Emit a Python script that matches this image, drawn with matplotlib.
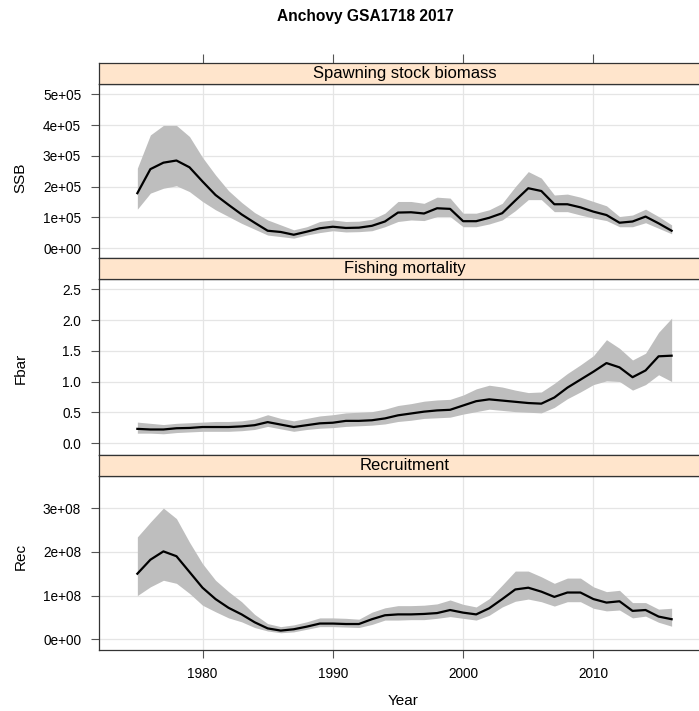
import matplotlib
matplotlib.use("Agg")
import matplotlib.pyplot as plt
import matplotlib.transforms as mtransforms

plt.rcParams['font.family'] = ['Liberation Sans', 'DejaVu Sans']

title = "Anchovy GSA1718 2017"
xlabel = "Year"
years = [1975, 1976, 1977, 1978, 1979, 1980, 1981, 1982, 1983, 1984,
         1985, 1986, 1987, 1988, 1989, 1990, 1991, 1992, 1993, 1994,
         1995, 1996, 1997, 1998, 1999, 2000, 2001, 2002, 2003, 2004,
         2005, 2006, 2007, 2008, 2009, 2010, 2011, 2012, 2013, 2014,
         2015, 2016]

# SSB (tonnes)
ssb = [179e3, 257e3, 278e3, 285e3, 263e3, 217e3, 173e3, 141e3, 110e3, 83e3,
       57e3, 53e3, 44e3, 54e3, 65e3, 70e3, 66e3, 67e3, 73e3, 87e3,
       116e3, 117e3, 113e3, 130e3, 128e3, 88e3, 88e3, 99e3, 114e3, 155e3,
       195e3, 186e3, 143e3, 143e3, 133e3, 119e3, 108e3, 83e3, 87e3, 103e3,
       81e3, 57e3]
ssb_hi = [260e3, 368e3, 399e3, 399e3, 363e3, 295e3, 238e3, 187e3, 149e3, 116e3,
          92e3, 76e3, 60e3, 70e3, 87e3, 92e3, 87e3, 88e3, 94e3, 114e3,
          152e3, 152e3, 146e3, 166e3, 163e3, 114e3, 114e3, 125e3, 146e3, 200e3,
          249e3, 228e3, 173e3, 176e3, 166e3, 152e3, 138e3, 103e3, 108e3, 127e3,
          103e3, 76e3]
ssb_lo = [127e3, 179e3, 195e3, 203e3, 184e3, 152e3, 125e3, 103e3, 81e3, 62e3,
          43e3, 38e3, 33e3, 43e3, 51e3, 57e3, 53e3, 54e3, 57e3, 70e3,
          87e3, 92e3, 90e3, 103e3, 103e3, 70e3, 70e3, 79e3, 92e3, 122e3,
          158e3, 158e3, 119e3, 119e3, 108e3, 98e3, 90e3, 70e3, 70e3, 83e3,
          65e3, 47e3]

# Fbar
fbar = [0.23, 0.22, 0.22, 0.24, 0.245, 0.26, 0.26, 0.26, 0.27, 0.29,
        0.34, 0.30, 0.26, 0.29, 0.32, 0.33, 0.36, 0.36, 0.37, 0.40,
        0.45, 0.48, 0.51, 0.53, 0.54, 0.61, 0.68, 0.71, 0.69, 0.67,
        0.65, 0.64, 0.74, 0.90, 1.03, 1.16, 1.30, 1.23, 1.07, 1.18,
        1.41, 1.42]
fbar_hi = [0.34, 0.32, 0.30, 0.32, 0.33, 0.34, 0.35, 0.35, 0.36, 0.39,
           0.46, 0.40, 0.36, 0.40, 0.44, 0.46, 0.49, 0.50, 0.51, 0.55,
           0.61, 0.64, 0.68, 0.70, 0.71, 0.78, 0.88, 0.94, 0.91, 0.86,
           0.82, 0.83, 0.97, 1.13, 1.27, 1.42, 1.68, 1.54, 1.35, 1.46,
           1.80, 2.03]
fbar_lo = [0.16, 0.16, 0.15, 0.17, 0.18, 0.19, 0.19, 0.19, 0.20, 0.22,
           0.27, 0.23, 0.19, 0.22, 0.24, 0.25, 0.27, 0.28, 0.29, 0.31,
           0.35, 0.37, 0.40, 0.41, 0.42, 0.47, 0.51, 0.55, 0.53, 0.51,
           0.50, 0.49, 0.58, 0.72, 0.83, 0.95, 1.01, 1.00, 0.86, 0.95,
           1.11, 1.00]

# Recruitment
rec = [1.50e8, 1.82e8, 2.01e8, 1.90e8, 1.54e8, 1.18e8, 0.92e8, 0.72e8, 0.57e8, 0.39e8,
       0.25e8, 0.20e8, 0.23e8, 0.29e8, 0.36e8, 0.36e8, 0.35e8, 0.35e8, 0.46e8, 0.55e8,
       0.57e8, 0.57e8, 0.58e8, 0.60e8, 0.67e8, 0.61e8, 0.57e8, 0.71e8, 0.92e8, 1.14e8,
       1.18e8, 1.09e8, 0.97e8, 1.07e8, 1.07e8, 0.92e8, 0.84e8, 0.87e8, 0.65e8, 0.67e8,
       0.52e8, 0.46e8]
rec_hi = [2.34e8, 2.68e8, 3.00e8, 2.76e8, 2.22e8, 1.73e8, 1.35e8, 1.09e8, 0.86e8, 0.57e8,
          0.36e8, 0.29e8, 0.33e8, 0.40e8, 0.49e8, 0.49e8, 0.48e8, 0.46e8, 0.62e8, 0.72e8,
          0.77e8, 0.77e8, 0.78e8, 0.81e8, 0.90e8, 0.80e8, 0.74e8, 0.93e8, 1.24e8, 1.56e8,
          1.56e8, 1.43e8, 1.28e8, 1.40e8, 1.40e8, 1.20e8, 1.09e8, 1.12e8, 0.84e8, 0.84e8,
          0.69e8, 0.71e8]
rec_lo = [1.00e8, 1.20e8, 1.35e8, 1.28e8, 1.05e8, 0.78e8, 0.63e8, 0.49e8, 0.40e8, 0.27e8,
          0.19e8, 0.15e8, 0.17e8, 0.23e8, 0.29e8, 0.29e8, 0.28e8, 0.27e8, 0.34e8, 0.44e8,
          0.44e8, 0.45e8, 0.45e8, 0.48e8, 0.52e8, 0.48e8, 0.44e8, 0.55e8, 0.74e8, 0.87e8,
          0.92e8, 0.86e8, 0.76e8, 0.86e8, 0.86e8, 0.71e8, 0.65e8, 0.67e8, 0.49e8, 0.53e8,
          0.39e8, 0.30e8]

strip_titles = ["Spawning stock biomass", "Fishing mortality", "Recruitment"]
ylabels = ["SSB", "Fbar", "Rec"]
xticks = [1980, 1990, 2000, 2010]
xtick_labels = ["1980", "1990", "2000", "2010"]
ssb_ticks = [0, 1e5, 2e5, 3e5, 4e5, 5e5]
ssb_tick_labels = ["0e+00", "1e+05", "2e+05", "3e+05", "4e+05", "5e+05"]
fbar_ticks = [0.0, 0.5, 1.0, 1.5, 2.0, 2.5]
fbar_tick_labels = ["0.0", "0.5", "1.0", "1.5", "2.0", "2.5"]
rec_ticks = [0, 1e8, 2e8, 3e8]
rec_tick_labels = ["0e+00", "1e+08", "2e+08", "3e+08"]

W, H = 699, 711
fig = plt.figure(figsize=(W / 100, H / 100), dpi=100)

def fy(px):
    return 1 - px / H

left_px = 99.3
xlim = (1972.08, 2018.1)
# (data top, data bottom, strip top) in pixels
panels = [(84, 258, 63), (279, 455, 258), (475.5, 650, 455)]
ylims = [(-31500, 533400), (-0.195, 2.667), (-0.244e8, 3.745e8)]
series = [(ssb, ssb_lo, ssb_hi, ssb_ticks, ssb_tick_labels),
          (fbar, fbar_lo, fbar_hi, fbar_ticks, fbar_tick_labels),
          (rec, rec_lo, rec_hi, rec_ticks, rec_tick_labels)]
ylabel_centers = [178, 368, 556]

border = "#333333"
gridc = "#e5e5e5"
strip_col = "#ffe5cc"
band_col = "#bebebe"

for i, ((top, bot, stop), yl, (mid, lo, hi, yt, ytl)) in enumerate(zip(panels, ylims, series)):
    ax = fig.add_axes([left_px / W, fy(bot), 1 - left_px / W, (bot - top) / H])
    ax.set_xlim(*xlim)
    ax.set_ylim(*yl)
    ax.set_xticks(xticks)
    ax.set_yticks(yt)
    ax.set_yticklabels(ytl, fontsize=9.8)
    ax.grid(True, color=gridc, lw=0.9, zorder=0)
    ax.set_axisbelow(True)
    ax.fill_between(years, lo, hi, color=band_col, lw=0, zorder=2)
    ax.plot(years, mid, color="black", lw=1.6, zorder=3, solid_joinstyle="round")
    for s in ["left", "bottom", "top"]:
        ax.spines[s].set_color(border)
        ax.spines[s].set_linewidth(0.9)
    ax.spines["right"].set_visible(False)
    ax.tick_params(axis="y", direction="out", length=6, width=0.8, color="#555555", pad=7)
    if i == 2:
        ax.set_xticklabels(xtick_labels, fontsize=9.8)
        ax.tick_params(axis="x", direction="out", length=6, width=0.8, color="#555555", pad=6)
        ax.set_xlabel(xlabel, fontsize=11)
        ax.xaxis.set_label_coords((403 - left_px) / (W - left_px), -(701 - bot + 0) / (bot - top) + 0.0,
                                  transform=ax.transAxes)
        ax.xaxis.label.set_va("center")
    else:
        ax.tick_params(axis="x", length=0, labelbottom=False)
    fig.text(20.5 / W, fy(ylabel_centers[i]), ylabels[i], rotation=90, fontsize=11,
             ha="center", va="center")

    # strip
    sax = fig.add_axes([left_px / W, fy(top), 1 - left_px / W, (top - stop) / H])
    sax.set_facecolor(strip_col)
    sax.set_xlim(*xlim)
    sax.set_ylim(0, 1)
    sax.set_yticks([])
    for s in ["left", "bottom", "top"]:
        sax.spines[s].set_color(border)
        sax.spines[s].set_linewidth(0.9)
    sax.spines["right"].set_visible(False)
    if i == 0:
        sax.set_xticks(xticks)
        sax.tick_params(axis="x", which="both", bottom=False, labelbottom=False,
                        top=True, labeltop=False, direction="out", length=6.5,
                        width=0.8, color="#555555")
    else:
        sax.set_xticks([])
    sax.text((1972.08 + 2018.95) / 2, 0.5, strip_titles[i], fontsize=12,
             ha="center", va="center", transform=sax.transData)

fig.text(365 / W, fy(17), title, fontsize=11.2, fontweight="bold", ha="center", va="center")

fig.savefig("out.png", dpi=100)
